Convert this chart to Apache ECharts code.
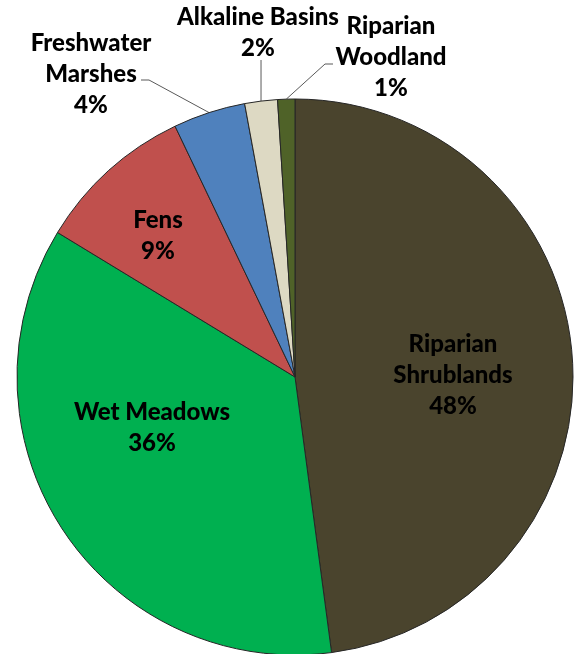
<!DOCTYPE html>
<html>
<head>
<meta charset="utf-8">
<script src="https://cdn.jsdelivr.net/npm/echarts@6/dist/echarts.min.js"></script>
<style>
html,body{margin:0;padding:0;background:#fff;}
#main{width:576px;height:654px;}
</style>
</head>
<body>
<div id="main"></div>
<script>
// wetland types, clockwise from 12 o'clock
var categories = ['Riparian\nShrublands', 'Wet Meadows', 'Fens', 'Freshwater\nMarshes', 'Alkaline Basins', 'Riparian\nWoodland'];
var shares = [47.9, 35.8, 9.2, 4.2, 1.9, 1.0];
var colors = ['#4A442D', '#00B050', '#C0504D', '#4F81BD', '#DDD9C3', '#4F6228'];

// label centre for each slice (px), and which ones sit outside with a leader
var labelPos = [[453, 375], [152, 428], [158, 236], [91, 74], [258, 33], [391, 57]];
var outside = [false, false, false, true, true, true];

e_chart();

function e_chart(){
	var myChart = echarts.init(document.getElementById('main'));

	var data = categories.map(function(c, i){
		return {
			name: c,
			value: shares[i],
			itemStyle: {color: colors[i]},
			label: {position: outside[i] ? 'outside' : 'inside'},
			labelLine: {show: outside[i]}
		};
	});

	var option = {
		animation: false,
		series: [{
			type: 'pie',
			center: [295, 377],
			radius: 278,
			startAngle: 90,
			clockwise: true,
			avoidLabelOverlap: false,
			percentPrecision: 0,
			data: data,
			itemStyle: {
				borderColor: '#262626',
				borderWidth: 1
			},
			label: {
				show: true,
				formatter: '{b}\n{d}%',
				fontFamily: 'Lato',
				fontWeight: 900,
				fontSize: 24,
				lineHeight: 31,
				color: '#000',
				align: 'center'
			},
			labelLine: {
				lineStyle: {color: '#595959', width: 1}
			},
			labelLayout: function(p){
				var i = p.dataIndex;
				var res = {
					x: labelPos[i][0],
					y: labelPos[i][1],
					align: 'center',
					verticalAlign: 'middle'
				};
				if (outside[i] && p.labelLinePoints){
					var s = p.labelLinePoints[0];
					if (i == 3) res.labelLinePoints = [s, [149, 80], [141, 80]];
					if (i == 4) res.labelLinePoints = [s, [s[0], 60], [s[0], 60]];
					if (i == 5) res.labelLinePoints = [s, [325, 64], [333, 64]];
				}
				return res;
			}
		}]
	};

	myChart.setOption(option);
}
</script>
</body>
</html>
